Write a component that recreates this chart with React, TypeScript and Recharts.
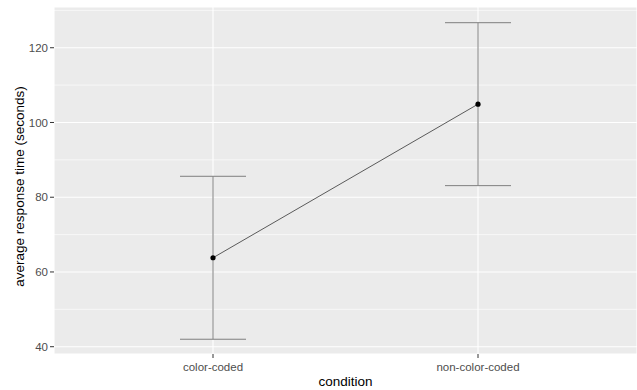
import React from 'react';
import {
  ComposedChart,
  Line,
  XAxis,
  YAxis,
  CartesianGrid,
  ErrorBar,
  ReferenceLine,
} from 'recharts';

const categories = ['color-coded', 'non-color-coded'];
const positions = [1, 2];
const means = [63.8, 104.9];
const errors = [21.8, 21.8];
const yTicks = [40, 60, 80, 100, 120];
const yMinor = [50, 70, 90, 110, 130];

const data = categories.map((c, i) => ({
  pos: positions[i],
  name: c,
  mean: means[i],
  err: errors[i],
}));

const FONT = '"Liberation Sans", Arial, sans-serif';

export default function App() {
  return (
    <div style={{ position: 'absolute', left: 0, top: 0, width: 637, height: 390, background: '#fff' }}>
      <ComposedChart
        width={637}
        height={390}
        data={data}
        margin={{ top: 7, right: 0, left: 0, bottom: 0 }}
      >
        <CartesianGrid fill="#EBEBEB" fillOpacity={1} stroke="#FFFFFF" strokeWidth={1.1} />
        {yMinor.map((v) => (
          <ReferenceLine key={v} y={v} stroke="#FFFFFF" strokeWidth={0.6} />
        ))}
        <XAxis
          dataKey="pos"
          type="number"
          domain={[0.4, 2.6]}
          allowDataOverflow
          ticks={positions}
          tickFormatter={(v: number) => categories[positions.indexOf(v)] ?? ''}
          height={36}
          axisLine={false}
          tickSize={4}
          tickMargin={5}
          tickLine={{ stroke: '#333333' }}
          tick={{ fill: '#4D4D4D', fontSize: 11.5, fontFamily: FONT }}
          label={{
            content: (props: any) => {
              const vb = props.viewBox || {};
              return (
                <text
                  x={vb.x + vb.width / 2}
                  y={386}
                  textAnchor="middle"
                  fill="#000"
                  fontSize={13.5}
                  fontFamily={FONT}
                >
                  condition
                </text>
              );
            },
          }}
        />
        <YAxis
          type="number"
          domain={[38.05, 130.9]}
          allowDataOverflow
          ticks={yTicks}
          width={54}
          axisLine={false}
          tickSize={4}
          tickMargin={2}
          tickLine={{ stroke: '#333333' }}
          tick={{ fill: '#4D4D4D', fontSize: 11.5, fontFamily: FONT }}
          label={{
            content: (props: any) => {
              const vb = props.viewBox || {};
              const cy = vb.y + vb.height / 2 + 6;
              return (
                <text
                  x={19}
                  y={cy}
                  transform={`rotate(-90, 19, ${cy})`}
                  textAnchor="middle"
                  dominantBaseline="central"
                  fill="#000"
                  fontSize={13.5}
                  fontFamily={FONT}
                >
                  average response time (seconds)
                </text>
              );
            },
          }}
        />
        <Line
          dataKey="mean"
          stroke="#5a5a5a"
          strokeWidth={1}
          isAnimationActive={false}
          dot={{ r: 2.6, fill: '#000', stroke: '#000', strokeWidth: 0 }}
          activeDot={false}
        >
          <ErrorBar dataKey="err" direction="y" width={33} stroke="#7f7f7f" strokeWidth={1} />
        </Line>
      </ComposedChart>
    </div>
  );
}
